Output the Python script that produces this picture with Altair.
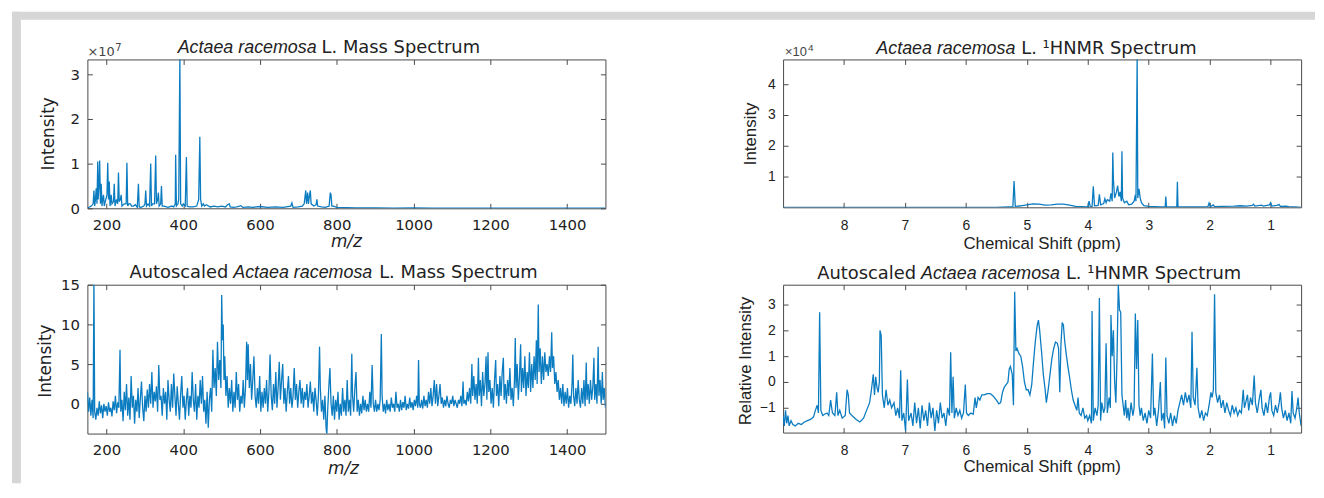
import altair as alt
import pandas as pd

# ---------------- data ----------------
# Panel 1: raw mass spectrum (m/z, intensity in units of 1e7)
ms_points = [
    (150, 0), (160, 0.05), (165, 0.1), (167, 0.4), (169, 0.05), (171, 0.2), (173, 0.45), (175, 0.1),
    (177, 1.05), (178, 0.2), (180, 0.5), (182, 1.07), (184, 0.1), (186, 0.55), (188, 0.05), (190, 0.2),
    (192, 0.3), (194, 0.05), (198, 0.2), (201, 0.3), (203, 1.02), (205, 0.2), (207, 0.6), (209, 0.05),
    (212, 0.3), (214, 0.1), (218, 0.15), (220, 0.55), (222, 0.05), (226, 0.2), (229, 0.1), (231, 0.8),
    (233, 0.15), (236, 0.2), (238, 0.3), (240, 0.05), (246, 0.1), (251, 0.1), (253, 1.02), (255, 0.05),
    (258, 0.1), (262, 0.1), (265, 0.05), (270, 0.05), (275, 0.08), (280, 0.02), (283, 0.55), (285, 0.03),
    (290, 0.02), (297, 0.05), (300, 0.1), (302, 0.4), (304, 0.05), (308, 0.1), (312, 0.05), (315, 1.0),
    (317, 0.05), (320, 0.1), (325, 0.1), (328, 1.18), (330, 0.1), (333, 0.2), (335, 0.35), (337, 0.05),
    (341, 0.1), (343, 0.5), (345, 0.05), (350, 0.05), (360, 0.02), (370, 0.05), (375, 0.03), (379, 0.1),
    (380, 1.2), (382, 0.05), (386, 0.1), (388, 0.2), (391, 3.4), (393, 0.1), (397, 0.05), (400, 0.1),
    (405, 0.05), (408, 1.15), (410, 0.05), (415, 0.03), (425, 0.03), (435, 0.05), (440, 0.2), (443, 1.6),
    (445, 0.2), (448, 0.05), (452, 0.1), (455, 0.05), (460, 0.08), (470, 0.03), (480, 0.05), (490, 0.03),
    (500, 0.05), (510, 0.03), (515, 0.08), (520, 0.1), (522, 0.03), (530, 0.02), (540, 0.03), (550, 0.06),
    (555, 0.02), (570, 0.03), (580, 0.02), (600, 0.04), (620, 0.02), (640, 0.03), (660, 0.02), (680, 0.05),
    (683, 0.12), (686, 0.02), (700, 0.03), (710, 0.05), (715, 0.1), (719, 0.4), (721, 0.1), (724, 0.35),
    (726, 0.1), (729, 0.3), (731, 0.4), (733, 0.1), (740, 0.05), (746, 0.08), (748, 0.2), (750, 0.05),
    (760, 0.03), (770, 0.02), (780, 0.05), (783, 0.35), (785, 0.3), (787, 0.05), (791, 0.05), (800, 0.02),
    (850, 0.01), (900, 0.01), (950, 0.005), (1000, 0.01), (1050, 0.005), (1100, 0.005), (1200, 0.005),
    (1300, 0.003), (1400, 0.003), (1500, 0.002),
]

# Panel 2: raw 1H NMR spectrum (ppm, intensity in units of 1e4)
nmr_points = [
    (9.0, 0), (5.5, 0), (5.3, 0.01), (5.23, 0.01), (5.21, 0.85), (5.19, 0.03), (5.1, 0.05), (5.0, 0.08),
    (4.9, 0.11), (4.8, 0.1), (4.7, 0.07), (4.6, 0.08), (4.5, 0.1), (4.4, 0.1), (4.3, 0.07), (4.2, 0.03),
    (4.1, 0.02), (4.0, 0.01), (3.98, 0.2), (3.96, 0.03), (3.93, 0.02), (3.91, 0.68), (3.89, 0.05),
    (3.83, 0.06), (3.81, 0.42), (3.79, 0.08), (3.74, 0.12), (3.72, 0.28), (3.70, 0.15), (3.68, 0.25),
    (3.64, 0.2), (3.62, 0.45), (3.60, 0.2), (3.59, 1.78), (3.58, 0.9), (3.56, 0.3), (3.53, 0.5),
    (3.51, 0.7), (3.49, 0.35), (3.47, 0.5), (3.45, 0.2), (3.44, 1.82), (3.43, 0.3), (3.40, 0.15),
    (3.36, 0.2), (3.33, 0.08), (3.28, 0.1), (3.24, 0.2), (3.22, 0.4), (3.21, 0.2), (3.19, 4.9),
    (3.18, 0.3), (3.16, 0.6), (3.14, 0.3), (3.12, 0.15), (3.08, 0.05), (3.0, 0.03), (2.9, 0.02),
    (2.8, 0.01), (2.73, 0.02), (2.72, 0.35), (2.71, 0.02), (2.6, 0.01), (2.54, 0.02), (2.53, 0.83),
    (2.52, 0.02), (2.4, 0.01), (2.2, 0.01), (2.03, 0.02), (2.01, 0.14), (1.99, 0.02), (1.94, 0.08),
    (1.92, 0.02), (1.8, 0.03), (1.6, 0.04), (1.5, 0.05), (1.4, 0.04), (1.3, 0.06), (1.28, 0.1),
    (1.26, 0.04), (1.15, 0.07), (1.12, 0.04), (1.02, 0.08), (1.0, 0.15), (0.98, 0.04), (0.9, 0.06),
    (0.86, 0.09), (0.84, 0.03), (0.75, 0.04), (0.7, 0.02), (0.6, 0.01), (0.5, 0),
]

# Panel 3: autoscaled mass spectrum (m/z, intensity)
ams_points = [
    (150, 1.5), (153, -1.0), (156, 0.8), (159, -1.5), (162, 0.5), (165, -1.8), (167, 16.0), (169, -1.0),
    (172, -2.0), (175, -0.5), (178, -1.5), (181, 0.3), (184, -1.2), (187, -0.2), (190, -1.8), (193, 0.0),
    (196, -1.0), (199, -0.3), (202, -1.5), (205, 0.2), (208, -1.0), (211, -0.5), (214, -1.6), (217, 0.3),
    (220, -0.8), (223, 1.0), (226, -1.2), (229, 0.2), (232, -0.5), (235, 6.8), (237, -1.0), (240, 0.5),
    (243, -2.2), (246, 1.5), (249, -0.8), (252, 2.5), (255, -1.5), (258, 0.8), (261, -2.0), (264, 3.5),
    (267, -0.5), (270, 1.0), (273, -2.5), (276, 0.5), (279, -1.0), (282, 2.0), (285, -1.8), (288, 0.7),
    (291, 2.8), (294, -0.5), (297, -2.2), (300, 1.0), (303, -1.0), (306, 1.8), (309, -0.5), (312, 2.5),
    (315, 0.0), (318, 4.0), (321, -0.5), (324, 1.5), (327, 0.3), (330, 2.2), (333, -1.0), (336, 4.9),
    (339, 0.5), (342, 1.0), (345, -1.5), (348, 2.0), (351, 0.0), (354, 1.5), (357, -2.0), (360, 3.0),
    (363, 0.5), (366, -1.0), (369, 2.5), (372, -0.5), (375, 3.8), (378, 1.0), (381, -1.5), (384, 2.2),
    (387, 0.0), (390, -2.0), (393, 1.2), (396, 3.5), (399, -0.5), (402, 1.0), (405, -2.0), (408, 0.5),
    (411, 2.0), (414, -1.5), (417, 1.0), (420, -0.5), (423, 4.0), (426, 0.5), (429, -1.0), (432, 2.5),
    (435, -2.0), (438, 1.0), (441, -0.5), (444, 3.0), (447, 0.0), (450, 3.5), (453, -1.0), (456, 0.5),
    (459, -2.5), (462, 1.5), (465, -3.0), (468, 0.5), (471, 2.0), (474, -1.0), (477, 6.8), (480, 2.0),
    (483, 4.5), (486, 1.0), (489, 7.8), (492, 3.0), (495, 5.5), (498, 2.0), (500, 13.7), (502, 8.0),
    (504, 10.0), (506, 3.0), (508, 6.0), (511, 1.0), (514, 3.5), (517, -0.5), (520, 2.0), (523, 0.0),
    (526, 3.0), (529, -1.0), (532, 1.5), (535, -0.5), (538, 4.0), (541, 0.5), (544, 2.5), (547, -1.0),
    (550, 1.0), (553, 0.0), (556, 3.0), (559, -0.5), (562, 2.0), (565, 7.8), (567, 3.0), (569, 7.5),
    (572, 2.0), (575, 5.0), (578, 0.5), (581, 3.0), (584, 6.0), (587, 1.0), (590, -0.5), (593, 2.0),
    (596, 0.0), (599, 3.5), (602, -1.0), (605, 1.5), (608, -0.5), (611, 2.0), (614, 0.0), (617, 3.0),
    (620, -1.0), (623, 1.5), (626, 6.2), (629, 1.0), (632, -0.8), (635, 2.5), (638, 0.0), (641, 4.0),
    (644, -0.5), (647, 2.0), (650, 5.3), (653, 0.5), (656, 3.0), (659, 5.0), (662, 0.0), (665, 2.0),
    (668, -1.0), (671, 1.5), (674, 3.5), (677, 0.0), (680, 2.0), (683, -0.5), (686, 1.0), (689, 4.5),
    (692, 0.5), (695, 2.5), (698, -0.5), (701, 1.5), (704, 3.0), (707, 0.0), (710, 2.0), (713, -0.5),
    (716, 1.5), (719, 0.5), (722, 2.5), (725, -0.5), (728, 1.0), (731, 2.8), (734, 0.0), (737, 1.5),
    (740, -1.0), (743, 2.0), (746, 0.5), (749, -1.5), (752, 1.0), (755, 7.2), (757, 2.0), (760, -1.0),
    (763, 0.5), (766, -2.0), (769, 1.0), (772, -3.0), (774, -3.9), (776, -1.0), (779, 2.0), (782, 4.5),
    (785, 0.0), (788, -1.5), (791, 1.0), (794, -2.0), (797, 0.5), (800, -1.0), (803, 1.5), (806, -2.0),
    (809, 0.0), (812, -1.5), (815, 2.0), (818, -1.0), (821, 0.5), (824, -1.5), (827, 3.0), (830, -1.0),
    (833, 0.5), (836, -1.5), (839, 6.3), (841, 1.0), (844, -1.0), (847, 2.0), (850, 4.0), (853, -1.0),
    (856, 0.5), (859, -1.5), (862, 0.0), (865, -1.2), (868, 1.0), (871, -0.8), (874, 0.5), (877, -1.0),
    (880, 0.0), (883, -1.0), (886, 1.5), (889, -0.5), (892, 4.9), (895, 0.0), (898, -1.0), (901, 0.5),
    (904, -1.0), (907, 0.0), (910, -0.8), (913, 0.5), (916, 8.8), (918, 1.0), (921, -1.0), (924, 0.0),
    (927, -1.2), (930, 0.5), (933, -0.8), (936, 0.0), (939, -1.0), (942, 0.8), (945, -0.5), (948, 0.0),
    (951, -1.0), (954, 1.5), (957, -0.5), (960, 0.0), (963, -1.0), (966, 0.5), (969, -0.8), (972, 0.2),
    (975, -0.5), (978, 1.0), (981, -0.8), (984, 0.0), (987, -0.6), (990, 0.8), (993, -0.5), (996, 0.2),
    (999, -0.8), (1002, 0.5), (1005, -0.3), (1008, 1.0), (1011, -0.5), (1013, 5.5), (1015, 0.0),
    (1018, -0.5), (1021, 0.5), (1024, -0.6), (1027, 1.0), (1030, -0.3), (1033, 0.5), (1036, -0.5),
    (1039, 1.5), (1042, 0.0), (1045, 2.0), (1048, -0.3), (1051, 1.0), (1054, 3.0), (1057, 0.0),
    (1060, 2.5), (1063, -0.3), (1066, 1.0), (1069, 2.5), (1072, 0.0), (1075, 0.8), (1078, -0.5),
    (1081, 0.5), (1084, -0.3), (1087, 1.0), (1090, 0.0), (1093, -0.5), (1096, 0.5), (1099, 0.0),
    (1102, 1.0), (1105, -0.3), (1108, 0.5), (1111, 0.0), (1114, -0.5), (1117, 0.5), (1120, 0.0),
    (1123, 1.0), (1126, -0.3), (1129, 2.8), (1131, 0.0), (1134, 0.5), (1137, -0.2), (1140, 1.5),
    (1143, 0.3), (1146, 2.0), (1149, 0.0), (1152, 5.0), (1154, 1.0), (1157, 3.5), (1160, 0.5),
    (1163, 2.5), (1166, 0.0), (1169, 5.8), (1171, 1.0), (1174, 3.0), (1177, -0.3), (1180, 4.0),
    (1183, 1.0), (1186, 2.5), (1189, 6.0), (1191, 0.5), (1194, 6.5), (1196, 1.5), (1199, 3.0),
    (1202, 0.0), (1205, 2.0), (1208, -0.5), (1211, 3.0), (1214, 5.5), (1216, 1.0), (1219, 2.5),
    (1222, -0.3), (1225, 3.5), (1228, 1.0), (1231, 4.0), (1234, 5.8), (1236, 0.5), (1239, 2.5),
    (1242, 0.0), (1245, 3.0), (1248, 1.0), (1251, 4.5), (1254, 0.5), (1257, 2.0), (1260, -0.3),
    (1263, 3.0), (1265, 8.3), (1267, 2.0), (1270, 5.0), (1273, 0.5), (1276, 3.5), (1279, 7.5),
    (1281, 1.5), (1284, 4.5), (1287, 2.0), (1290, 6.0), (1293, 1.0), (1296, 4.0), (1299, 2.0),
    (1302, 6.5), (1305, 1.5), (1308, 5.0), (1311, 2.0), (1314, 6.0), (1317, 3.0), (1320, 8.0),
    (1322, 2.5), (1325, 12.5), (1327, 4.0), (1330, 7.0), (1333, 2.5), (1336, 6.0), (1339, 3.0),
    (1342, 6.5), (1345, 4.0), (1348, 5.0), (1351, 3.5), (1354, 6.0), (1357, 4.0), (1360, 9.0),
    (1362, 4.5), (1365, 6.0), (1368, 2.5), (1371, 4.0), (1374, 1.5), (1377, 3.0), (1380, 0.5),
    (1383, 2.0), (1386, 0.0), (1389, 2.5), (1392, -0.3), (1395, 1.5), (1398, 0.0), (1401, 2.0),
    (1404, -0.5), (1407, 1.0), (1410, 0.0), (1413, 2.5), (1415, 6.2), (1417, 1.0), (1420, -0.3),
    (1423, 2.0), (1426, 0.0), (1429, 3.0), (1432, 0.5), (1435, -0.5), (1438, 2.0), (1441, 0.0),
    (1444, 3.0), (1447, -0.3), (1450, 5.2), (1452, 0.5), (1455, 2.5), (1458, 0.0), (1461, 3.0),
    (1464, 0.5), (1467, 2.0), (1470, 5.8), (1472, 0.5), (1475, 2.5), (1478, 0.0), (1481, 7.2),
    (1483, 1.0), (1486, 3.0), (1489, 0.0), (1492, 4.0), (1494, 0.5), (1497, 2.0), (1500, -0.5),
]

# Panel 4: autoscaled 1H NMR spectrum (ppm, relative intensity)
anmr_points = [
    (9.00, -1.3), (8.98, -1.7), (8.96, -1.1), (8.94, -1.6), (8.92, -1.3), (8.90, -1.7), (8.87, -1.5),
    (8.84, -1.65), (8.80, -1.7), (8.75, -1.6), (8.70, -1.65), (8.65, -1.55), (8.60, -1.5), (8.55, -1.45),
    (8.50, -1.35), (8.47, -1.1), (8.44, -0.9), (8.42, -1.2), (8.40, 2.7), (8.38, -1.1), (8.35, -1.3),
    (8.32, -1.25), (8.28, -1.2), (8.25, -1.3), (8.22, -0.7), (8.19, -1.2), (8.15, -1.3), (8.12, -0.4),
    (8.10, -1.3), (8.07, -1.1), (8.03, -1.4), (7.98, -1.3), (7.95, -0.3), (7.93, -0.5), (7.91, -1.2),
    (7.87, -1.3), (7.80, -1.45), (7.74, -1.55), (7.68, -1.4), (7.63, -1.1), (7.58, -0.8), (7.55, -0.3),
    (7.52, 0.3), (7.50, -0.5), (7.48, 0.2), (7.46, -0.2), (7.44, -0.4), (7.42, 0.0), (7.41, 2.0),
    (7.39, 1.8), (7.37, -0.5), (7.34, -1.0), (7.31, -0.3), (7.28, -0.9), (7.25, -0.7), (7.22, -1.0),
    (7.18, -0.8), (7.15, -1.3), (7.12, -1.0), (7.09, -1.4), (7.07, 0.45), (7.05, -1.5), (7.02, -1.2),
    (6.99, -1.9), (6.96, 0.1), (6.94, -1.5), (6.90, -1.2), (6.87, -1.7), (6.84, -0.8), (6.81, -1.6),
    (6.78, -1.0), (6.75, -1.8), (6.72, -0.9), (6.69, -1.5), (6.66, -1.1), (6.63, -1.7), (6.60, -0.8),
    (6.57, -1.4), (6.54, -1.0), (6.51, -1.9), (6.48, -1.1), (6.45, -1.6), (6.42, -0.8), (6.39, -1.4),
    (6.36, -1.2), (6.33, -1.7), (6.30, -1.0), (6.27, -1.3), (6.25, 1.15), (6.23, -1.2), (6.21, 0.2),
    (6.19, -1.4), (6.16, -1.0), (6.13, -1.3), (6.10, -1.1), (6.07, -1.4), (6.04, -1.2), (6.01, -0.1),
    (5.99, -1.2), (5.96, -1.3), (5.92, -1.2), (5.88, -1.25), (5.85, -0.6), (5.83, -1.0), (5.80, -0.6),
    (5.77, -0.7), (5.74, -0.5), (5.70, -0.5), (5.65, -0.45), (5.60, -0.45), (5.55, -0.55), (5.50, -0.7),
    (5.46, -0.85), (5.43, -0.8), (5.40, -0.4), (5.37, -0.2), (5.34, -0.1), (5.31, 0.0), (5.29, 0.5),
    (5.27, 0.6), (5.24, 0.3), (5.22, -0.9), (5.20, 3.5), (5.18, 1.2), (5.16, 1.3), (5.13, 1.1),
    (5.10, 1.0), (5.07, 0.6), (5.04, 0.0), (5.01, -0.3), (4.98, -0.3), (4.95, -0.5), (4.92, -0.1),
    (4.89, 0.8), (4.86, 1.6), (4.83, 2.2), (4.81, 2.4), (4.79, 2.0), (4.76, 1.2), (4.73, 0.3),
    (4.70, -0.3), (4.68, -0.8), (4.65, -0.3), (4.62, 0.3), (4.59, 0.9), (4.56, 1.3), (4.53, 1.55),
    (4.50, 1.5), (4.48, 1.3), (4.46, -0.4), (4.44, 1.5), (4.42, 2.3), (4.40, 2.2), (4.38, 1.6),
    (4.35, 1.0), (4.32, 0.5), (4.30, 0.2), (4.27, -0.3), (4.24, -0.7), (4.21, -0.9), (4.18, -1.1),
    (4.16, -0.6), (4.14, -1.2), (4.11, -1.3), (4.08, -1.0), (4.05, -1.4), (4.02, -1.3), (4.00, -1.5),
    (3.97, -1.3), (3.94, -1.6), (3.93, 2.75), (3.91, -1.5), (3.88, -1.0), (3.85, -1.3), (3.83, -0.9),
    (3.81, 3.25), (3.79, -1.5), (3.77, -0.8), (3.74, -1.2), (3.72, -1.0), (3.70, 1.5), (3.68, -1.2),
    (3.65, -0.6), (3.63, -1.0), (3.62, 2.6), (3.60, 1.0), (3.58, 2.0), (3.56, 0.0), (3.54, -0.8),
    (3.52, 1.0), (3.50, 3.8), (3.48, 2.8), (3.46, 2.7), (3.44, -0.5), (3.42, -0.9), (3.40, -1.3),
    (3.38, -0.7), (3.36, -1.4), (3.34, -1.0), (3.32, -1.5), (3.29, -0.8), (3.26, -1.3), (3.24, -1.0),
    (3.22, 2.65), (3.20, 0.5), (3.18, 2.4), (3.16, -0.9), (3.14, -1.3), (3.12, -1.0), (3.09, -1.5),
    (3.06, -1.2), (3.03, -1.6), (3.00, -1.1), (2.97, -1.4), (2.94, 1.1), (2.92, -1.3), (2.90, -1.0),
    (2.87, -1.7), (2.84, -1.1), (2.81, 0.0), (2.79, -1.5), (2.76, -1.2), (2.74, -1.8), (2.72, 0.95),
    (2.70, -1.3), (2.67, -1.6), (2.64, -1.2), (2.61, -1.7), (2.58, -1.3), (2.55, -1.6), (2.52, -1.1),
    (2.49, -0.8), (2.46, -0.5), (2.43, -0.9), (2.40, -0.4), (2.37, -0.8), (2.34, -0.5), (2.31, -1.0),
    (2.29, 1.95), (2.27, -0.6), (2.24, -0.9), (2.21, 0.55), (2.19, -1.0), (2.16, -1.4), (2.13, -1.1),
    (2.10, -1.5), (2.07, -1.2), (2.04, -1.3), (2.01, -0.9), (1.98, -0.4), (1.96, -0.6), (1.94, -0.3),
    (1.92, 3.4), (1.90, -0.4), (1.87, -0.8), (1.84, -0.5), (1.81, -1.0), (1.78, -0.7), (1.75, -1.2),
    (1.72, -0.8), (1.69, -1.1), (1.66, -1.3), (1.63, -0.9), (1.60, -1.2), (1.57, -1.0), (1.54, -1.3),
    (1.51, -1.1), (1.48, -1.2), (1.45, -0.3), (1.43, -1.0), (1.40, -0.7), (1.38, -0.5), (1.36, -1.1),
    (1.33, -0.6), (1.30, -0.9), (1.27, 0.25), (1.25, -0.8), (1.22, -1.2), (1.19, -0.7), (1.16, -0.3),
    (1.14, -1.0), (1.11, -1.3), (1.08, -0.8), (1.05, -1.2), (1.02, -0.6), (1.00, -0.4), (0.98, -1.1),
    (0.95, -1.3), (0.92, -0.9), (0.89, -1.2), (0.86, -0.8), (0.84, -0.4), (0.82, -1.0), (0.79, -1.4),
    (0.76, -1.1), (0.73, -1.5), (0.70, -1.2), (0.67, -1.6), (0.65, -0.35), (0.63, -1.2), (0.60, -1.4),
    (0.57, -1.0), (0.55, -0.6), (0.53, -1.2), (0.50, -1.7),
]

mz_ticks = [200, 400, 600, 800, 1000, 1200, 1400]
ppm_ticks = [1, 2, 3, 4, 5, 6, 7, 8]
ms_y_ticks = [0, 1, 2, 3]
nmr_y_ticks = [1, 2, 3, 4]
ams_y_ticks = [0, 5, 10, 15]
anmr_y_ticks = [-1, 0, 1, 2, 3]

# ---------------- styling ----------------
BLUE = "#0c7cc1"
AXC = "#4a4a4a"
TXT = "#222222"
GRAY = "#d6d6d6"
LEFT_FONT = "DejaVu Sans"
RIGHT_FONT = "Liberation Sans"


def txt(s, x, y, font, size, style="normal", align="center", baseline="alphabetic", angle=0, color=TXT):
    return alt.Chart(pd.DataFrame({"t": [s]})).mark_text(
        font=font, fontSize=size, fontStyle=style, align=align, baseline=baseline,
        angle=angle, color=color,
    ).encode(x=alt.value(x), y=alt.value(y), text="t:N")


def band(x1, x2, y1, y2):
    return alt.Chart(pd.DataFrame({"k": [0]})).mark_rect(color=GRAY).encode(
        x=alt.value(x1), x2=alt.value(x2), y=alt.value(y1), y2=alt.value(y2)
    )


def panel(points, xname, yname, xdom, ydom, xrev, xticks, yticks, w, h, font, lsize, xpad, extras):
    df = pd.DataFrame(points, columns=[xname, yname])
    xs = alt.Scale(domain=xdom, reverse=xrev, nice=False, zero=False)
    ys = alt.Scale(domain=ydom, nice=False, zero=False)
    common = dict(tickColor=AXC, tickSize=5, tickWidth=1, domain=False, grid=False,
                  offset=-5, title=None)
    line = alt.Chart(df).mark_line(color=BLUE, strokeWidth=1.3, clip=True).encode(
        x=alt.X(f"{xname}:Q", scale=xs,
                axis=alt.Axis(values=xticks, format="d", labelFont=font, labelFontSize=lsize,
                              labelColor=TXT, labelPadding=xpad, labelFlush=False, **common)),
        y=alt.Y(f"{yname}:Q", scale=ys,
                axis=alt.Axis(values=yticks, format="d", labelFont=font, labelFontSize=lsize,
                              labelColor=TXT, labelPadding=8, **common)),
    )
    frame_df = pd.DataFrame({xname: list(xdom), yname: list(ydom)})
    frame = alt.Chart(frame_df).mark_point(opacity=0).encode(
        x=alt.X(f"{xname}:Q", scale=xs,
                axis=alt.Axis(orient="top", values=xticks, labels=False, **common)),
        y=alt.Y(f"{yname}:Q", scale=ys,
                axis=alt.Axis(orient="right", values=yticks, labels=False, **common)),
    )
    return alt.layer(line, frame, *extras).resolve_axis(
        x="independent", y="independent"
    ).properties(width=w, height=h)


TS = 18  # title font size
AS = 17  # axis title font size

p1 = panel(
    ms_points, "mz", "intensity", [150, 1500], [0, 3.333], False, mz_ticks, ms_y_ticks,
    522, 150, LEFT_FONT, 15, 9,
    [
        band(-76, 1237, -48, -40),
        band(-76, -67, -48, 427),
        txt("Actaea racemosa", 161, -6, RIGHT_FONT, TS, style="italic"),
        txt("L. Mass Spectrum", 236, -6, LEFT_FONT, TS, align="left"),
        txt("×10", 0, -3, LEFT_FONT, 13, align="left", color="#444444"),
        txt("7", 28, -9, LEFT_FONT, 10, align="left", color="#444444"),
        txt("Intensity", -39, 75, LEFT_FONT, AS, angle=270, baseline="middle"),
        txt("m/z", 261, 184, LEFT_FONT, AS, style="italic", baseline="middle"),
    ],
)

p2 = panel(
    nmr_points, "ppm", "intensity", [0.5, 9.0], [0, 4.8], True, ppm_ticks, nmr_y_ticks,
    522, 149, RIGHT_FONT, 14, 11,
    [
        txt("Actaea racemosa", 164, -5, RIGHT_FONT, TS, style="italic"),
        txt("L. ¹HNMR Spectrum", 240, -5, LEFT_FONT, TS, align="left"),
        txt("×10", 2, -3, RIGHT_FONT, 13, align="left", color="#444444"),
        txt("4", 25, -9, RIGHT_FONT, 10, align="left", color="#444444"),
        txt("Intensity", -32, 75, RIGHT_FONT, AS, angle=270, baseline="middle"),
        txt("Chemical Shift (ppm)", 261, 186, RIGHT_FONT, AS, baseline="middle"),
    ],
)

p3 = panel(
    ams_points, "mz", "value", [150, 1500], [-3.75, 15], False, mz_ticks, ams_y_ticks,
    522, 150, LEFT_FONT, 15, 9,
    [
        txt("Autoscaled", 142, -7, LEFT_FONT, TS, align="right"),
        txt("Actaea racemosa", 217, -7, RIGHT_FONT, TS, style="italic"),
        txt("L. Mass Spectrum", 294, -7, LEFT_FONT, TS, align="left"),
        txt("Intensity", -42, 77, LEFT_FONT, AS, angle=270, baseline="middle"),
        txt("m/z", 258, 186, LEFT_FONT, AS, style="italic", baseline="middle"),
    ],
)

p4 = panel(
    anmr_points, "ppm", "value", [0.5, 9.0], [-1.96, 3.77], True, ppm_ticks, anmr_y_ticks,
    522, 149, RIGHT_FONT, 14, 11,
    [
        txt("Autoscaled", 134, -6, LEFT_FONT, TS, align="right"),
        txt("Actaea racemosa", 209, -6, RIGHT_FONT, TS, style="italic"),
        txt("L. ¹HNMR Spectrum", 285, -6, LEFT_FONT, TS, align="left"),
        txt("Relative Intensity", -37, 77, RIGHT_FONT, AS, angle=270, baseline="middle"),
        txt("Chemical Shift (ppm)", 261, 184, RIGHT_FONT, AS, baseline="middle"),
    ],
)

chart = alt.concat(
    p1, p2, p3, p4, columns=2, spacing={"row": 77, "column": 179}, bounds="flush"
).properties(
    padding={"left": 3, "top": 1, "right": 0, "bottom": 0}
).configure_view(
    stroke=AXC, strokeWidth=1
)

chart.save("out.html", embed_options={"renderer": "svg", "actions": False})
